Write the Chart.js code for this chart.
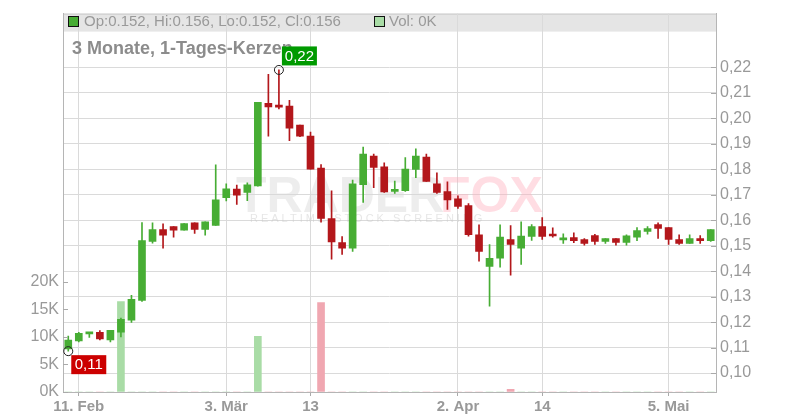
<!DOCTYPE html>
<html>
<head>
<meta charset="utf-8">
<script src="https://cdn.jsdelivr.net/npm/chart.js@4.4.1/dist/chart.umd.min.js"></script>
<style>
  html, body { margin: 0; padding: 0; background: #fff; }
  canvas { display: block; }
</style>
</head>
<body>
<canvas id="candleChart" width="800" height="420"></canvas>
<script>
const dates = [
  '2025-02-10', '2025-02-11', '2025-02-12', '2025-02-13', '2025-02-14',
  '2025-02-17', '2025-02-18', '2025-02-19', '2025-02-20', '2025-02-21',
  '2025-02-24', '2025-02-25', '2025-02-26', '2025-02-27', '2025-02-28',
  '2025-03-03', '2025-03-04', '2025-03-05', '2025-03-06', '2025-03-07',
  '2025-03-10', '2025-03-11', '2025-03-12', '2025-03-13', '2025-03-14',
  '2025-03-17', '2025-03-18', '2025-03-19', '2025-03-20', '2025-03-21',
  '2025-03-24', '2025-03-25', '2025-03-26', '2025-03-27', '2025-03-28',
  '2025-03-31', '2025-04-01', '2025-04-02', '2025-04-03', '2025-04-04',
  '2025-04-07', '2025-04-08', '2025-04-09', '2025-04-10', '2025-04-11',
  '2025-04-14', '2025-04-15', '2025-04-16', '2025-04-17',
  '2025-04-22', '2025-04-23', '2025-04-24', '2025-04-25',
  '2025-04-28', '2025-04-29', '2025-04-30',
  '2025-05-02',
  '2025-05-05', '2025-05-06', '2025-05-07', '2025-05-08', '2025-05-09'
];

const opens = [
  0.1095, 0.1126, 0.1154, 0.1160, 0.1130, 0.1161, 0.1208, 0.1285, 0.1517, 0.1563,
  0.1575, 0.1561, 0.1590, 0.1564, 0.1580, 0.1689, 0.1722, 0.1709, 0.1735, 0.2059,
  0.2047, 0.2048, 0.1973, 0.1930, 0.1805, 0.1606, 0.1512, 0.1490, 0.1740, 0.1852,
  0.1810, 0.1713, 0.1716, 0.1799, 0.1848, 0.1743, 0.1712, 0.1684, 0.1657, 0.1543,
  0.1419, 0.1451, 0.1524, 0.1490, 0.1536, 0.1575, 0.1540, 0.1523, 0.1532, 0.1524,
  0.1540, 0.1517, 0.1528, 0.1513, 0.1533, 0.1556, 0.1583, 0.1571, 0.1524, 0.1509,
  0.1528, 0.1520
];
const highs = [
  0.1145, 0.1160, 0.1160, 0.1167, 0.1168, 0.1216, 0.1305, 0.1591, 0.1590, 0.1586,
  0.1575, 0.1587, 0.1590, 0.1594, 0.1817, 0.1743, 0.1738, 0.1747, 0.2063, 0.2173,
  0.2190, 0.2071, 0.1973, 0.1946, 0.1818, 0.1715, 0.1536, 0.1758, 0.1887, 0.1860,
  0.1825, 0.1754, 0.1846, 0.1880, 0.1860, 0.1786, 0.1751, 0.1696, 0.1665, 0.1582,
  0.1504, 0.1582, 0.1579, 0.1594, 0.1583, 0.1610, 0.1570, 0.1547, 0.1551, 0.1528,
  0.1545, 0.1528, 0.1528, 0.1543, 0.1571, 0.1575, 0.1590, 0.1571, 0.1543, 0.1543,
  0.1540, 0.1563
];
const lows = [
  0.1086, 0.1122, 0.1140, 0.1130, 0.1122, 0.1142, 0.1199, 0.1281, 0.1510, 0.1490,
  0.1533, 0.1561, 0.1548, 0.1541, 0.1580, 0.1676, 0.1662, 0.1677, 0.1734, 0.1930,
  0.2037, 0.1912, 0.1928, 0.1800, 0.1592, 0.1447, 0.1466, 0.1478, 0.1670, 0.1728,
  0.1709, 0.1705, 0.1713, 0.1767, 0.1752, 0.1705, 0.1642, 0.1646, 0.1537, 0.1439,
  0.1263, 0.1416, 0.1384, 0.1427, 0.1521, 0.1525, 0.1533, 0.1509, 0.1512, 0.1502,
  0.1505, 0.1509, 0.1502, 0.1502, 0.1520, 0.1545, 0.1529, 0.1505, 0.1505, 0.1509,
  0.1509, 0.1517
];
const closes = [
  0.1130, 0.1156, 0.1160, 0.1134, 0.1168, 0.1211, 0.1289, 0.1520, 0.1563, 0.1541,
  0.1561, 0.1587, 0.1564, 0.1594, 0.1680, 0.1723, 0.1698, 0.1739, 0.2063, 0.2045,
  0.2044, 0.1961, 0.1930, 0.1800, 0.1607, 0.1515, 0.1490, 0.1743, 0.1860, 0.1807,
  0.1711, 0.1719, 0.1801, 0.1852, 0.1752, 0.1709, 0.1680, 0.1654, 0.1543, 0.1478,
  0.1450, 0.1534, 0.1505, 0.1538, 0.1575, 0.1536, 0.1538, 0.1531, 0.1520, 0.1509,
  0.1517, 0.1528, 0.1513, 0.1539, 0.1559, 0.1567, 0.1568, 0.1525, 0.1509, 0.1528,
  0.1520, 0.1563
];
const volumes = [
  0, 0, 0, 0, 0, 16400, 0, 0, 0, 0,
  0, 0, 0, 0, 0, 0, 0, 0, 10100, 0,
  0, 0, 0, 0, 16200, 0, 0, 0, 0, 0,
  0, 0, 0, 0, 0, 0, 0, 0, 0, 0,
  0, 0, 500, 0, 0, 0, 0, 0, 0, 0,
  0, 0, 0, 0, 0, 0, 0, 0, 0, 0,
  0, 0
];

const xTickText = { 1: '11. Feb', 15: '3. Mär', 23: '13', 37: '2. Apr', 45: '14', 57: '5. Mai' };
const priceTicks = [0.10, 0.11, 0.12, 0.13, 0.14, 0.15, 0.16, 0.17, 0.18, 0.19, 0.20, 0.21, 0.22];
const volTicks = [0, 5000, 10000, 15000, 20000];

const GREEN = '#47ad34';
const RED = '#b3171b';
const candleColors = opens.map((o, i) => closes[i] >= o ? GREEN : RED);
const volColors = opens.map((o, i) => closes[i] >= o ? '#a9dca6' : '#f0a7b1');

// header band, title, watermark
const backdrop = {
  id: 'backdrop',
  beforeDraw(chart) {
    const c = chart.ctx, a = chart.chartArea;
    c.save();
    c.fillStyle = '#e5e5e5';
    c.fillRect(a.left, a.top, a.right - a.left, 18);
    c.strokeStyle = '#c8c8c8';
    c.lineWidth = 1;
    c.beginPath();
    c.moveTo(a.left, a.top + 0.5);
    c.lineTo(a.right, a.top + 0.5);
    c.stroke();
    c.restore();
  },
  beforeDatasetsDraw(chart) {
    const c = chart.ctx;
    c.save();
    c.font = 'bold 50px "Liberation Sans", Arial, sans-serif';
    c.textBaseline = 'alphabetic';
    c.fillStyle = 'rgba(215,215,215,0.45)';
    c.fillText('TRADER', 236, 212);
    c.fillStyle = 'rgba(255,170,185,0.4)';
    c.fillText('FOX', 440, 212);
    c.font = '11px "Liberation Sans", Arial, sans-serif';
    c.letterSpacing = '3px';
    c.fillStyle = 'rgba(200,200,200,0.45)';
    c.fillText('REALTIME STOCK SCREENING', 250, 222);
    c.letterSpacing = '0px';

    c.font = 'bold 18px "Liberation Sans", Arial, sans-serif';
    c.fillStyle = '#8c8c8c';
    c.fillText('3 Monate, 1-Tages-Kerzen', 72, 54);
    c.restore();
  },
  afterDatasetsDraw(chart) {
    const c = chart.ctx, x = chart.scales.x, y = chart.scales.y;
    const hi = highs.indexOf(Math.max(...highs));
    const lo = lows.indexOf(Math.min(...lows));
    const marks = [
      { i: hi, v: highs[hi], color: '#009a00', up: true },
      { i: lo, v: lows[lo], color: '#cc0000', up: false }
    ];
    c.save();
    marks.forEach(m => {
      const px = x.getPixelForValue(m.i), py = y.getPixelForValue(m.v);
      const bx = px + 3, by = m.up ? py - 23.5 : py + 4;
      c.fillStyle = m.color;
      c.fillRect(bx, by, 35, 19);
      c.fillStyle = '#fff';
      c.font = '15px "Liberation Sans", Arial, sans-serif';
      c.textAlign = 'center';
      c.textBaseline = 'middle';
      c.fillText(m.v.toFixed(2).replace('.', ','), bx + 17.5, by + 10);
      c.strokeStyle = '#222';
      c.lineWidth = 1;
      c.beginPath();
      c.arc(px, py, 4.5, 0, Math.PI * 2);
      c.stroke();
    });
    c.restore();
  },
  afterDraw(chart) {
    const c = chart.ctx, a = chart.chartArea;
    const vol = chart.scales.vol, y = chart.scales.y;
    c.save();
    c.strokeStyle = '#aaa';
    c.lineWidth = 1;
    c.beginPath();
    volTicks.forEach(v => {
      const py = Math.round(vol.getPixelForValue(v)) + 0.5;
      c.moveTo(a.left, py);
      c.lineTo(a.left + 5, py);
    });
    priceTicks.forEach(v => {
      const py = Math.round(y.getPixelForValue(v)) + 0.5;
      c.moveTo(a.right - 5, py);
      c.lineTo(a.right, py);
    });
    c.stroke();

    // header line
    c.font = '15px "Liberation Sans", Arial, sans-serif';
    c.textBaseline = 'middle';
    const n = closes.length - 1;
    c.fillStyle = GREEN;
    c.fillRect(68.5, 16.5, 10, 10);
    c.strokeRect(68.5, 16.5, 10, 10);
    c.fillStyle = '#a9dca6';
    c.fillRect(374.5, 16.5, 10, 10);
    c.strokeStyle = '#111';
    c.strokeRect(68.5, 16.5, 10, 10);
    c.strokeRect(374.5, 16.5, 10, 10);
    c.fillStyle = '#999';
    c.fillText('Op:' + opens[n].toFixed(3) + ', Hi:' + highs[n].toFixed(3) +
      ', Lo:' + lows[n].toFixed(3) + ', Cl:' + closes[n].toFixed(3), 84, 22);
    c.fillText('Vol: ' + Math.round(volumes[n] / 1000) + 'K', 389, 22);
    c.restore();
  }
};

const candleCtx = document.getElementById('candleChart').getContext('2d');
const candleChart = new Chart(candleCtx, {
  type: 'bar',
  data: {
    labels: dates,
    datasets: [{
      label: 'Volumen',
      data: volumes,
      yAxisID: 'vol',
      backgroundColor: volColors,
      barThickness: 7,
      grouped: false,
      order: 3
    }, {
      label: 'Docht',
      data: dates.map((d, i) => [lows[i], highs[i]]),
      yAxisID: 'y',
      backgroundColor: candleColors,
      barThickness: 1,
      grouped: false,
      order: 2
    }, {
      label: 'Kerze',
      data: dates.map((d, i) => [opens[i], closes[i]]),
      yAxisID: 'y',
      backgroundColor: candleColors,
      barThickness: 7,
      minBarLength: 2,
      grouped: false,
      order: 1
    }]
  },
  options: {
    responsive: false,
    animation: false,
    layout: { padding: { top: 12 } },
    plugins: {
      legend: { display: false },
      tooltip: { enabled: false }
    },
    scales: {
      x: {
        offset: true,
        grid: {
          offset: false,
          color: ctx => xTickText[ctx.index] ? '#dadada' : 'rgba(0,0,0,0)',
          tickColor: ctx => xTickText[ctx.index] ? '#aaa' : 'rgba(0,0,0,0)',
          tickLength: 4
        },
        border: { color: '#b5b5b5' },
        ticks: {
          autoSkip: false,
          maxRotation: 0,
          padding: 2,
          color: '#999',
          font: { family: '"Liberation Sans", Arial, sans-serif', size: 15, weight: 'bold' },
          callback: (v, i) => xTickText[i] || ''
        },
        afterFit: s => { s.height = 28; }
      },
      vol: {
        position: 'left',
        min: 0,
        max: 68600,
        afterBuildTicks: s => { s.ticks = volTicks.map(v => ({ value: v })); },
        grid: { drawOnChartArea: false, tickLength: 0 },
        border: { color: '#b5b5b5' },
        ticks: {
          padding: 4,
          color: '#999',
          font: { family: '"Liberation Sans", Arial, sans-serif', size: 16 },
          callback: v => (v / 1000) + 'K'
        },
        afterFit: s => { s.width = 63; }
      },
      y: {
        position: 'right',
        min: 0.09257,
        max: 0.24111,
        afterBuildTicks: s => { s.ticks = priceTicks.map(v => ({ value: v })); },
        grid: { color: '#dadada', tickLength: 0 },
        border: { color: '#b5b5b5' },
        ticks: {
          padding: 4,
          color: '#999',
          font: { family: '"Liberation Sans", Arial, sans-serif', size: 16 },
          callback: v => v.toFixed(2).replace('.', ',')
        },
        afterFit: s => { s.width = 84; }
      }
    }
  },
  plugins: [backdrop]
});
</script>
</body>
</html>
